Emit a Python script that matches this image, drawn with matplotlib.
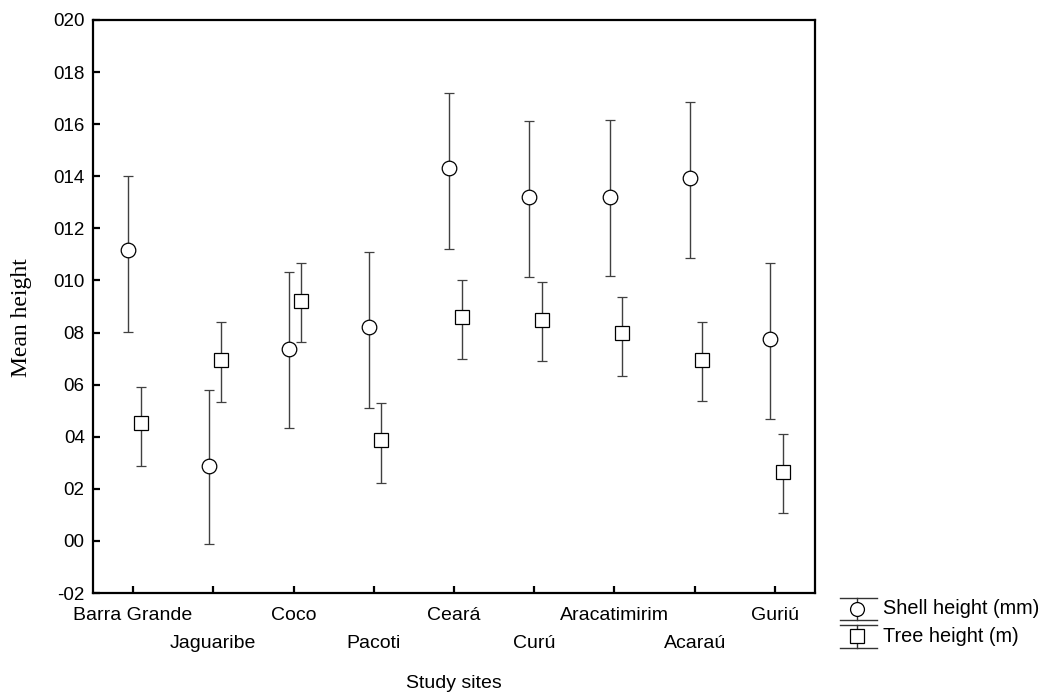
import matplotlib
matplotlib.use("Agg")
import matplotlib.pyplot as plt
from matplotlib.lines import Line2D
from matplotlib.transforms import blended_transform_factory
import numpy as np

plt.rcParams['font.family'] = ['Liberation Sans', 'DejaVu Sans']

sites = ['Barra Grande', 'Jaguaribe', 'Coco', 'Pacoti', 'Ceará',
         'Curú', 'Aracatimirim', 'Acaraú', 'Guriú']

# shell height (mm): mean, lower and upper end of the bar
shell_mean = [11.18, 2.86, 7.37, 8.20, 14.33, 13.22, 13.22, 13.94, 7.77]
shell_low = [8.04, -0.12, 4.33, 5.12, 11.22, 10.15, 10.18, 10.86, 4.69]
shell_high = [14.00, 5.78, 10.31, 11.11, 17.21, 16.13, 16.15, 16.84, 10.67]

# tree height (m)
tree_mean = [4.52, 6.96, 9.22, 3.88, 8.60, 8.49, 7.98, 6.96, 2.66]
tree_low = [2.88, 5.35, 7.62, 2.24, 6.99, 6.89, 6.34, 5.37, 1.09]
tree_high = [5.91, 8.39, 10.66, 5.28, 10.02, 9.93, 9.35, 8.39, 4.11]

ytick_vals = [-2, 0, 2, 4, 6, 8, 10, 12, 14, 16, 18, 20]
ytick_labels = ['-02', '00', '02', '04', '06', '08', '010', '012',
                '014', '016', '018', '020']

W, H = 1049, 695
fig = plt.figure(figsize=(W / 100, H / 100), dpi=100)
ax = fig.add_axes([93 / W, 1 - 593 / H, (815 - 93) / W, (593 - 20) / H])

x = np.arange(1, len(sites) + 1)
sm = np.array(shell_mean)
tm = np.array(tree_mean)
s_err = [sm - np.array(shell_low), np.array(shell_high) - sm]
t_err = [tm - np.array(tree_low), np.array(tree_high) - tm]

ax.errorbar(x - 0.06, sm, yerr=s_err, fmt='o', ms=10.5, mfc='white',
            mec='black', mew=0.9, ecolor='#404040', elinewidth=1.0,
            capsize=3.5, capthick=1.0, zorder=3)
ax.errorbar(x + 0.095, tm, yerr=t_err, fmt='s', ms=10, mfc='white',
            mec='black', mew=0.9, ecolor='#404040', elinewidth=1.0,
            capsize=3.5, capthick=1.0, zorder=3)

ax.set_xlim(0.5, 9.5)
ax.set_ylim(-2, 20)
ax.set_yticks(ytick_vals)
ax.set_yticklabels(ytick_labels)
ax.set_xticks(x)
ax.set_xticklabels([])
ax.tick_params(axis='both', direction='in', length=5, width=1.6,
               labelsize=13.5, pad=6)
for sp in ax.spines.values():
    sp.set_linewidth(1.6)

# staggered site labels
lab_tr = blended_transform_factory(ax.transData, fig.transFigure)
for i, name in enumerate(sites):
    ypix = 615 if i % 2 == 0 else 643
    ax.text(x[i], 1 - ypix / H, name, transform=lab_tr,
            ha='center', va='center', fontsize=14)

fig.text(454 / W, 1 - 684 / H, 'Study sites', ha='center', va='center', fontsize=14)
fig.text(22 / W, 1 - 318 / H, 'Mean height', rotation=90, ha='center',
         va='center', fontsize=17, family=['Liberation Serif', 'DejaVu Serif'])

# legend drawn by hand
def fx(px):
    return px / W

def fy(py):
    return 1 - py / H

for top, bot, mid, mk, ms, label in [(598, 620, 609, 'o', 10, 'Shell height (mm)'),
                                     (625, 648, 636, 's', 9.5, 'Tree height (m)')]:
    for yy in (top, bot):
        fig.add_artist(Line2D([fx(840), fx(877)], [fy(yy), fy(yy)],
                              color='#333333', lw=1.0))
    fig.add_artist(Line2D([fx(857), fx(857)], [fy(top), fy(bot)],
                          color='#333333', lw=1.0))
    fig.add_artist(Line2D([fx(857)], [fy(mid)], marker=mk, ms=ms, mfc='white',
                          mec='black', mew=0.9, ls='none'))
    fig.text(fx(883), fy(mid), label, ha='left', va='center', fontsize=14.3)

fig.savefig('out.png', dpi=100)
